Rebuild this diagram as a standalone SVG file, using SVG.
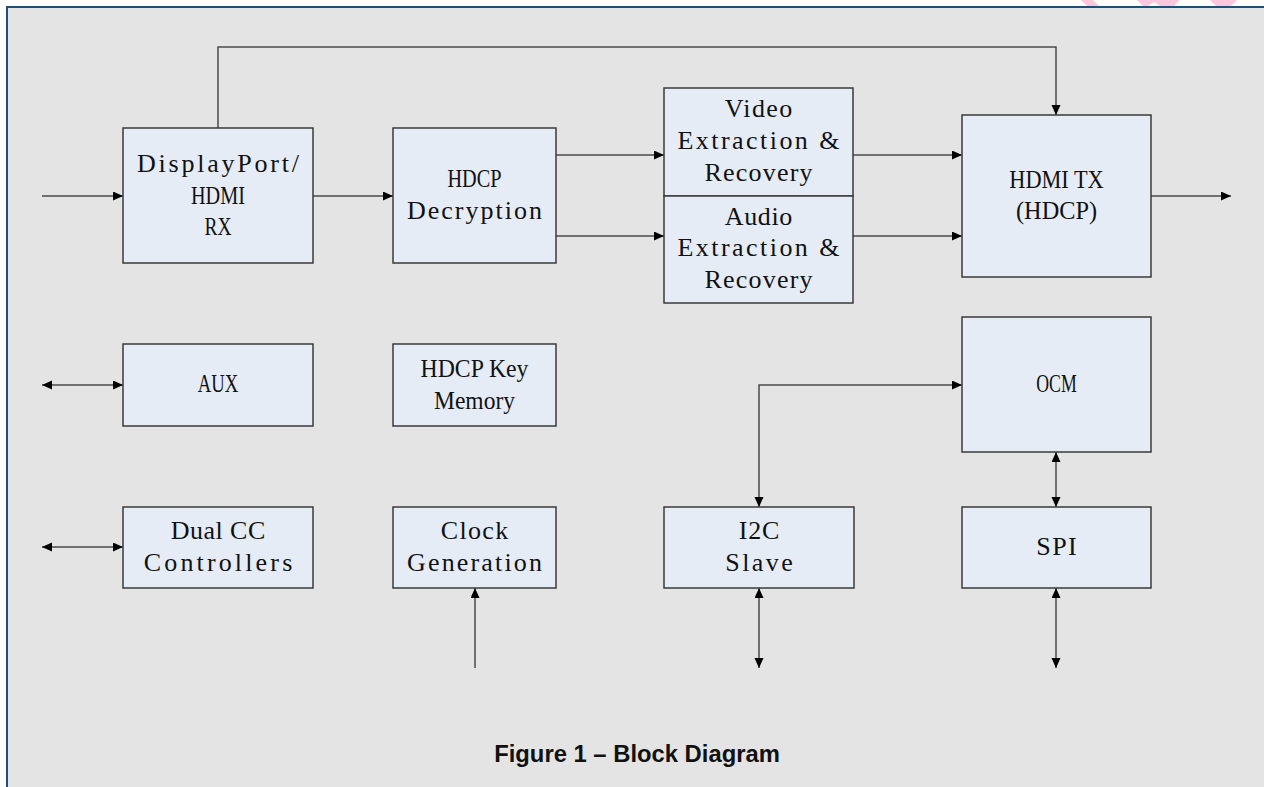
<svg xmlns="http://www.w3.org/2000/svg" width="1264" height="787" viewBox="0 0 1264 787">
<style>
.box{fill:#e6ecf6;stroke:#3a3a3a;stroke-width:1.5}
.t{font-family:"Liberation Serif","Times New Roman",serif;font-size:26px;fill:#111;text-anchor:middle}
.c{fill:none;stroke:#4a4a4a;stroke-width:1.5}
.cap{font-family:"Liberation Sans",Arial,sans-serif;font-weight:bold;font-size:23.8px;fill:#111;text-anchor:middle}
.wm{fill:#fbc6e2}
</style>
<defs>
<marker id="ah" markerUnits="userSpaceOnUse" markerWidth="11" markerHeight="10" refX="10" refY="4.5" orient="auto-start-reverse">
<path d="M0,0 L10,4.5 L0,9 z" fill="#000"/>
</marker>
</defs>
<rect x="0" y="0" width="1264" height="787" fill="#fff"/>
<g id="watermark">
<polygon class="wm" points="1081,0 1093,0 1099,6 1087,6"/>
<polygon class="wm" points="1137,0 1180,0 1174,6 1160,6 1154,2 1148,6 1143,6"/>
<polygon class="wm" points="1210,0 1237,0 1231,6 1216,6"/>
</g>
<rect id="frame" x="7" y="7" width="1270" height="800" fill="#e4e4e4" stroke="#1f4e79" stroke-width="2"/>

<g id="connectors">
<path class="c" d="M42,196 H123" marker-end="url(#ah)"/>
<path class="c" d="M313,196 H393" marker-end="url(#ah)"/>
<path class="c" d="M218,128 V47 H1056 V115" marker-end="url(#ah)"/>
<path class="c" d="M556,155 H664" marker-end="url(#ah)"/>
<path class="c" d="M556,236 H664" marker-end="url(#ah)"/>
<path class="c" d="M853,155 H962" marker-end="url(#ah)"/>
<path class="c" d="M853,236 H962" marker-end="url(#ah)"/>
<path class="c" d="M1151,196 H1231" marker-end="url(#ah)"/>
<path class="c" d="M42,385 H123" marker-start="url(#ah)" marker-end="url(#ah)"/>
<path class="c" d="M42,547 H123" marker-start="url(#ah)" marker-end="url(#ah)"/>
<path class="c" d="M475,668 V588" marker-end="url(#ah)"/>
<path class="c" d="M759,507 V385 H962" marker-start="url(#ah)" marker-end="url(#ah)"/>
<path class="c" d="M759,588 V668" marker-start="url(#ah)" marker-end="url(#ah)"/>
<path class="c" d="M1056,452 V507" marker-start="url(#ah)" marker-end="url(#ah)"/>
<path class="c" d="M1056,588 V668" marker-start="url(#ah)" marker-end="url(#ah)"/>
</g>

<g id="dp_rx">
<rect class="box" x="123" y="128" width="190" height="135"/>
<text class="t" x="218" y="171.5" textLength="162" lengthAdjust="spacing">DisplayPort/</text>
<text class="t" x="218" y="203.5" textLength="54" lengthAdjust="spacingAndGlyphs">HDMI</text>
<text class="t" x="218" y="235" textLength="27" lengthAdjust="spacingAndGlyphs">RX</text>
</g>
<g id="hdcp_dec">
<rect class="box" x="393" y="128" width="163" height="135"/>
<text class="t" x="474.5" y="186.5" textLength="54" lengthAdjust="spacingAndGlyphs">HDCP</text>
<text class="t" x="474.5" y="218.5" textLength="135" lengthAdjust="spacing">Decryption</text>
</g>
<g id="video">
<rect class="box" x="664" y="88" width="189" height="108"/>
<text class="t" x="758.5" y="117" textLength="67.5" lengthAdjust="spacing">Video</text>
<text class="t" x="758.5" y="149" textLength="162" lengthAdjust="spacing">Extraction &amp;</text>
<text class="t" x="758.5" y="181" textLength="108" lengthAdjust="spacing">Recovery</text>
</g>
<g id="audio">
<rect class="box" x="664" y="196" width="189" height="107"/>
<text class="t" x="758.5" y="224.5" textLength="67.5" lengthAdjust="spacing">Audio</text>
<text class="t" x="758.5" y="256" textLength="162" lengthAdjust="spacing">Extraction &amp;</text>
<text class="t" x="758.5" y="287.5" textLength="108" lengthAdjust="spacing">Recovery</text>
</g>
<g id="hdmi_tx">
<rect class="box" x="962" y="115" width="189" height="162"/>
<text class="t" x="1056.5" y="187.5" textLength="94.5" lengthAdjust="spacingAndGlyphs">HDMI TX</text>
<text class="t" x="1056.5" y="219" textLength="81" lengthAdjust="spacingAndGlyphs">(HDCP)</text>
</g>
<g id="aux">
<rect class="box" x="123" y="344" width="190" height="82"/>
<text class="t" x="218" y="392" textLength="40.5" lengthAdjust="spacingAndGlyphs">AUX</text>
</g>
<g id="key_mem">
<rect class="box" x="393" y="344" width="163" height="82"/>
<text class="t" x="474.5" y="376.5" textLength="108" lengthAdjust="spacingAndGlyphs">HDCP Key</text>
<text class="t" x="474.5" y="408.5" textLength="81" lengthAdjust="spacingAndGlyphs">Memory</text>
</g>
<g id="ocm">
<rect class="box" x="962" y="317" width="189" height="135"/>
<text class="t" x="1056.5" y="392" textLength="40.5" lengthAdjust="spacingAndGlyphs">OCM</text>
</g>
<g id="dual_cc">
<rect class="box" x="123" y="507" width="190" height="81"/>
<text class="t" x="218" y="538.5" textLength="94.5" lengthAdjust="spacing">Dual CC</text>
<text class="t" x="218" y="570.5" textLength="148.5" lengthAdjust="spacing">Controllers</text>
</g>
<g id="clock_gen">
<rect class="box" x="393" y="507" width="163" height="81"/>
<text class="t" x="474.5" y="538.5" textLength="67.5" lengthAdjust="spacing">Clock</text>
<text class="t" x="474.5" y="570.5" textLength="135" lengthAdjust="spacing">Generation</text>
</g>
<g id="i2c">
<rect class="box" x="664" y="507" width="190" height="81"/>
<text class="t" x="759" y="538.5" textLength="40.5" lengthAdjust="spacing">I2C</text>
<text class="t" x="759" y="570.5" textLength="67.5" lengthAdjust="spacing">Slave</text>
</g>
<g id="spi">
<rect class="box" x="962" y="507" width="189" height="81"/>
<text class="t" x="1056.5" y="555" textLength="40.5" lengthAdjust="spacing">SPI</text>
</g>
<text id="caption" class="cap" x="637" y="762">Figure 1 – Block Diagram</text>
</svg>
